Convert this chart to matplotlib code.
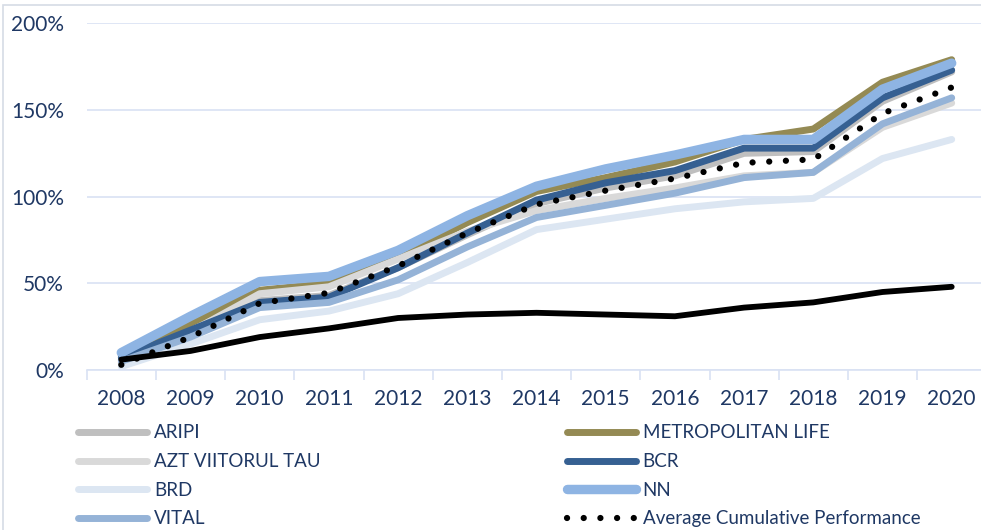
import matplotlib
matplotlib.use("Agg")
import matplotlib.pyplot as plt
from matplotlib.patches import Rectangle
from matplotlib.ticker import FuncFormatter

years = ["2008", "2009", "2010", "2011", "2012", "2013", "2014",
         "2015", "2016", "2017", "2018", "2019", "2020"]

aripi = [6, 22, 40, 43, 59, 78, 96, 105, 112, 125, 126, 155, 172]
metropolitan = [8, 27, 46, 50, 65, 85, 103, 111, 120, 133, 139, 166, 179]
azt = [4, 22, 44, 48, 64, 80, 92, 99, 105, 112, 114, 140, 154]
bcr = [7, 23, 39, 42, 59, 79, 98, 108, 115, 128, 128, 157, 173]
brd = [2, 15, 29, 34, 44, 62, 81, 87, 93, 97, 99, 122, 133]
nn = [10, 31, 51, 54, 69, 89, 106, 116, 124, 133, 133, 162, 177]
vital = [5, 19, 36, 39, 52, 71, 88, 95, 102, 111, 114, 142, 157]
average = [3, 19, 38.5, 44.5, 60, 79, 95.5, 103.5, 110.5, 119.5, 121.5, 148, 163]
benchmark = [6, 11, 19, 24, 30, 32, 33, 32, 31, 36, 39, 45, 48]

W, H = 981, 530
fig = plt.figure(figsize=(W / 100, H / 100), dpi=100)

# chart-area border
fig.add_artist(Rectangle((3 / W, -0.1), 1.2, 1.1 - 5 / H, transform=fig.transFigure,
                         fill=False, edgecolor="#d6dce5", linewidth=1.2))

left, right = 86.7, 986.3
bottom, top = 370, 23.3
ax = fig.add_axes([left / W, 1 - bottom / H, (right - left) / W, (bottom - top) / H])

x = list(range(len(years)))
text_color = "#1f3864"
FONT = "Lato"
FS = 15.0
LFS = 13.5

series = [
    ("ARIPI", aripi, "#bfbfbf", 5.0),
    ("METROPOLITAN LIFE", metropolitan, "#948a54", 5.0),
    ("AZT VIITORUL TAU", azt, "#d9d9d9", 5.0),
    ("BCR", bcr, "#366092", 5.0),
    ("BRD", brd, "#dce6f2", 5.0),
    ("NN", nn, "#8eb4e3", 6.8),
    ("VITAL", vital, "#95b3d7", 5.0),
]
handles = {}
for name, vals, col, lw in series:
    (ln,) = ax.plot(x, vals, color=col, lw=lw, solid_capstyle="round",
                    solid_joinstyle="round", label=name)
    handles[name] = ln

(avg,) = ax.plot(x, average, color="black", lw=4.5, linestyle=(0, (0.01, 2.66)),
                 dash_capstyle="round", label="Average Cumulative Performance")
handles["Average Cumulative Performance"] = avg
ax.plot(x, benchmark, color="black", lw=4.2, solid_capstyle="round",
        solid_joinstyle="round")

ax.set_xlim(-0.5, len(years) - 0.5)
ax.set_ylim(0, 200)
ax.set_yticks([0, 50, 100, 150, 200])
ax.yaxis.set_major_formatter(FuncFormatter(lambda v, p: f"{int(v)}%"))
ax.set_xticks(x)
ax.set_xticklabels(years)
ax.set_xticks([i - 0.5 for i in range(len(years) + 1)], minor=True)
ax.tick_params(axis="x", which="major", length=0, pad=14)
ax.tick_params(axis="x", which="minor", length=7, color="#d9e2f3", width=1.2)
ax.tick_params(axis="y", length=0, pad=16.5)
for lab in ax.get_xticklabels() + ax.get_yticklabels():
    lab.set_fontfamily(FONT)
    lab.set_fontsize(FS)
    lab.set_color(text_color)

ax.grid(axis="y", color="#d9e2f3", lw=1.2)
ax.set_axisbelow(True)
for s in ["top", "right", "left"]:
    ax.spines[s].set_visible(False)
ax.spines["bottom"].set_color("#d9e2f3")
ax.spines["bottom"].set_linewidth(1.2)

leg_kw = dict(frameon=False, handlelength=3.66, handletextpad=0.38,
              labelspacing=0.62, borderaxespad=0, borderpad=0,
              prop={"family": FONT, "size": LFS}, labelcolor=text_color)
left_names = ["ARIPI", "AZT VIITORUL TAU", "BRD", "VITAL"]
right_names = ["METROPOLITAN LIFE", "BCR", "NN", "Average Cumulative Performance"]
fig.legend([handles[n] for n in left_names], left_names, loc="upper left",
           bbox_to_anchor=(78 / W, 1 - 424.5 / H), **leg_kw)
fig.legend([handles[n] for n in right_names], right_names, loc="upper left",
           bbox_to_anchor=(567 / W, 1 - 424.5 / H), **leg_kw)

fig.savefig("out.png", dpi=100)
